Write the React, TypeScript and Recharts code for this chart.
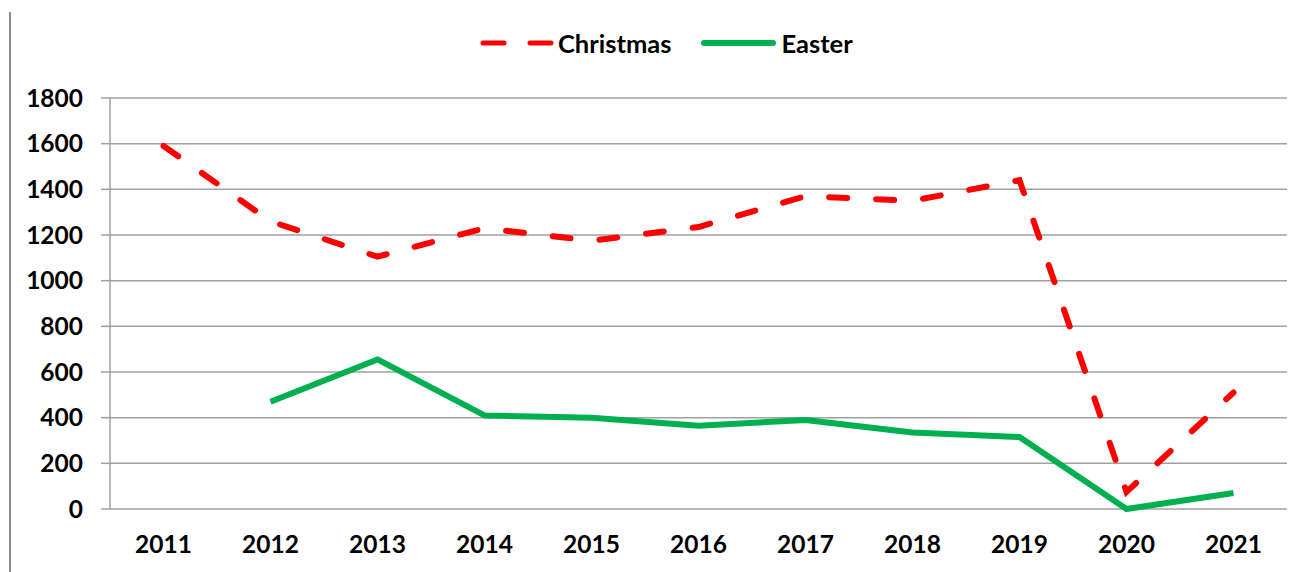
import React from 'react';
import { LineChart, Line, XAxis, YAxis, CartesianGrid } from 'recharts';

const years = ['2011', '2012', '2013', '2014', '2015', '2016', '2017', '2018', '2019', '2020', '2021'];
const christmas = [1590, 1260, 1105, 1230, 1175, 1235, 1370, 1350, 1440, 75, 510];
const easter: (number | null)[] = [null, 470, 655, 410, 400, 365, 390, 335, 315, 0, 70];
const yTicks = [0, 200, 400, 600, 800, 1000, 1200, 1400, 1600, 1800];

const data = years.map((y, i) => ({ x: i, year: y, Christmas: christmas[i], Easter: easter[i] }));
const centerTicks = years.map((_, i) => i);
const boundaryTicks = [...years.map((_, i) => i - 0.5), years.length - 0.5];

const FONT = 'Lato, "Open Sans", sans-serif';
const RED = '#FF0000';
const GREEN = '#00B050';
const GRID = '#A0A0A0';

export default function App() {
  return (
    <div style={{ position: 'absolute', left: 0, top: 0, width: 1303, height: 572, background: '#fff', fontFamily: FONT }}>
      <div style={{ position: 'absolute', left: 9, top: 12, width: 0, height: 560, borderLeft: '2px solid #8c8c8c' }} />
      <div style={{ position: 'absolute', left: 478, top: 27, height: 32, display: 'flex', alignItems: 'center', fontWeight: 700, fontSize: 25.5, color: '#000', whiteSpace: 'nowrap' }}>
        <svg width={77} height={12} style={{ marginRight: 3 }}>
          <line x1={5} y1={6} x2={26} y2={6} stroke={RED} strokeWidth={5} strokeLinecap="round" />
          <line x1={52} y1={6} x2={73} y2={6} stroke={RED} strokeWidth={5} strokeLinecap="round" />
        </svg>
        <span style={{ marginRight: 29 }}>Christmas</span>
        <svg width={77} height={12} style={{ marginRight: 4 }}>
          <line x1={4} y1={6} x2={73} y2={6} stroke={GREEN} strokeWidth={6} strokeLinecap="round" />
        </svg>
        <span>Easter</span>
      </div>
      <LineChart width={1303} height={572} data={data} margin={{ top: 98, right: 16, bottom: 23, left: 0 }}>
        <CartesianGrid vertical={false} stroke={GRID} strokeWidth={1.5} />
        <XAxis
          xAxisId="b"
          dataKey="x"
          type="number"
          domain={[-0.5, years.length - 0.5]}
          ticks={boundaryTicks}
          tick={false}
          tickSize={8}
          height={0}
          axisLine={{ stroke: GRID, strokeWidth: 1.5 }}
          tickLine={{ stroke: GRID, strokeWidth: 1.5 }}
        />
        <XAxis
          dataKey="x"
          type="number"
          domain={[-0.5, years.length - 0.5]}
          ticks={centerTicks}
          interval={0}
          tickFormatter={(v: number) => years[v]}
          tickSize={0}
          tickMargin={27}
          height={40}
          axisLine={false}
          tickLine={false}
          tick={{ fill: '#000', fontSize: 24.5, fontWeight: 700, fontFamily: FONT }}
        />
        <YAxis
          width={110}
          domain={[0, 1800]}
          ticks={yTicks}
          interval={0}
          tickSize={9}
          tickMargin={18}
          axisLine={{ stroke: GRID, strokeWidth: 1.5 }}
          tickLine={{ stroke: GRID, strokeWidth: 1.5 }}
          tick={{ fill: '#000', fontSize: 24.5, fontWeight: 700, fontFamily: FONT }}
        />
        <Line
          type="linear"
          dataKey="Christmas"
          stroke={RED}
          strokeWidth={6}
          strokeDasharray="18 29"
          strokeLinecap="round"
          dot={false}
          activeDot={false}
          isAnimationActive={false}
        />
        <Line
          type="linear"
          dataKey="Easter"
          stroke={GREEN}
          strokeWidth={6}
          strokeLinejoin="round"
          dot={false}
          activeDot={false}
          connectNulls={false}
          isAnimationActive={false}
        />
      </LineChart>
    </div>
  );
}
